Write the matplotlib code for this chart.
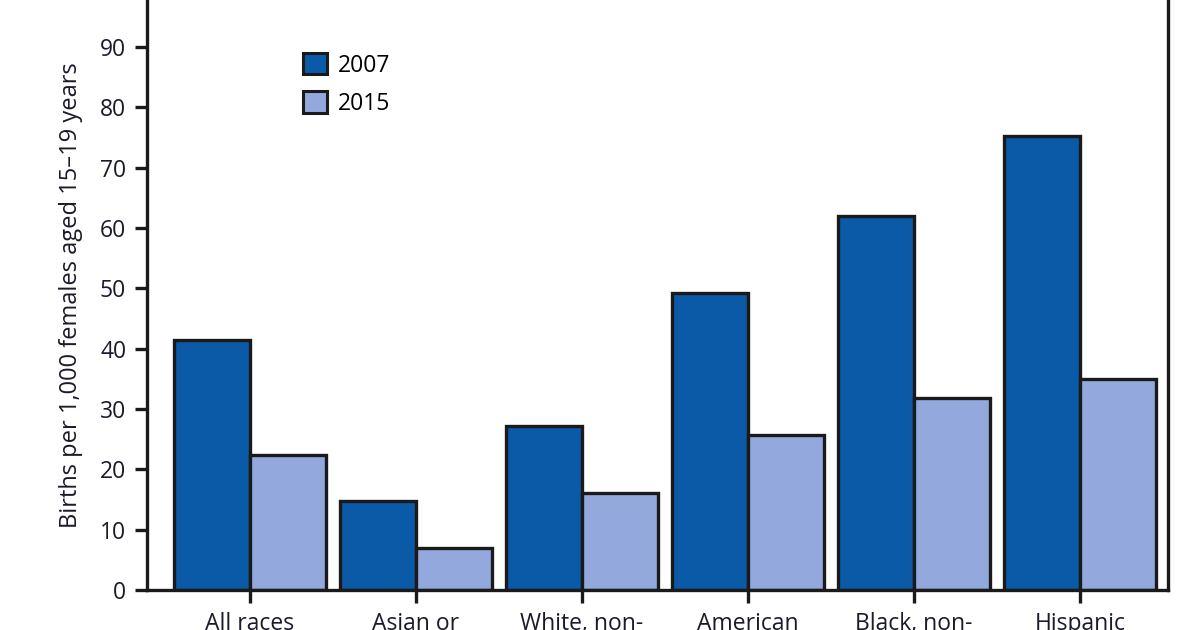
import numpy as np
import matplotlib
matplotlib.use('Agg')
import matplotlib.pyplot as plt
from matplotlib.patches import Patch

plt.rcParams['font.family'] = ['Open Sans', 'DejaVu Sans']

groups = ['All races', 'Asian or\nPacific Islander', 'White, non-\nHispanic',
          'American\nIndian/Alaska\nNative', 'Black, non-\nHispanic', 'Hispanic']
rate_2007 = [41.5, 14.8, 27.2, 49.3, 62.0, 75.3]
rate_2015 = [22.3, 6.9, 16.0, 25.7, 31.8, 34.9]
years = ['2007', '2015']

dark = '#0a5aa8'
light = '#93a8dc'
edge = '#1a1a1a'

fig = plt.figure(figsize=(12, 6.3), dpi=100)
ax = fig.add_axes([0.1225, 0.0635, 0.8508, 0.9365])

x = np.arange(len(groups))
w = 0.458
ax.bar(x - w / 2, rate_2007, width=w, color=dark, edgecolor=edge, linewidth=2.4)
ax.bar(x + w / 2, rate_2015, width=w, color=light, edgecolor=edge, linewidth=2.4)

ax.set_xlim(-0.62, 5.53)
ax.set_ylim(0, 97.8)
ax.set_yticks(range(0, 100, 10))
ax.set_xticks(x)
ax.set_xticklabels(groups, fontsize=16.5, va='top', linespacing=1.1)
ax.tick_params(axis='y', labelsize=16.5, length=9, width=2.4, pad=6, colors='#1a1a1a')
ax.tick_params(axis='x', length=9, width=2.4, pad=7, colors='#1a1a1a')
for lbl in ax.get_xticklabels() + ax.get_yticklabels():
    lbl.set_color('#1a1a2a')

ax.spines['top'].set_visible(False)
for s in ['left', 'bottom', 'right']:
    ax.spines[s].set_linewidth(2.4)
    ax.spines[s].set_color('#1a1a1a')

ax.set_ylabel('Births per 1,000 females aged 15\u201319 years', fontsize=17, labelpad=12,
              color='#1a1a2a')

handles = [Patch(facecolor=dark, edgecolor=edge, linewidth=2.2),
           Patch(facecolor=light, edgecolor=edge, linewidth=2.2)]
ax.legend(handles, years, loc='upper left', bbox_to_anchor=(0.133, 0.945), frameon=False,
          fontsize=16.5, handlelength=1.05, handleheight=1.05, handletextpad=0.45,
          labelspacing=0.6)

fig.savefig('out.png', dpi=100)
